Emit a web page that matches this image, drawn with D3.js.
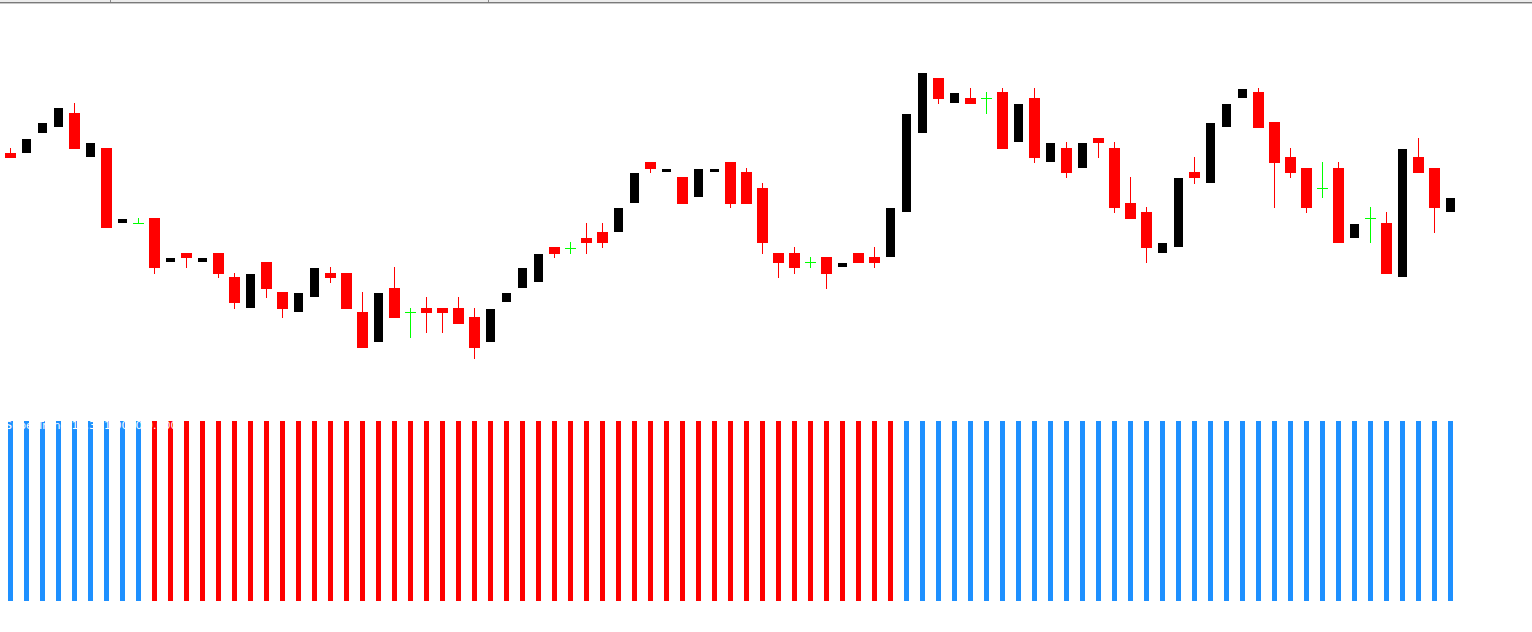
<!DOCTYPE html>
<html>
<head>
<meta charset="utf-8">
<title>candles</title>
<script src="https://d3js.org/d3.v7.min.js"></script>
<style>
  body { margin: 0; background: #fff; }
  svg { display: block; }
</style>
</head>
<body>
<div id="chart"></div>
<script>
// OHLC (price units)
var opens  = [1.1907,1.1907,1.1927,1.1933,1.1947,1.1903,1.1912,1.1837,1.1837,1.1842,
              1.1798,1.1807,1.1798,1.1807,1.1783,1.1752,1.1798,1.1768,1.1748,1.1763,
              1.1787,1.1787,1.1748,1.1718,1.1772,1.1748,1.1752,1.1752,1.1752,1.1743,
              1.1718,1.1758,1.1772,1.1778,1.1813,1.1812,1.1822,1.1828,1.1828,1.1857,
              1.1898,1.1888,1.1883,1.1863,1.1888,1.1898,1.1888,1.1872,1.1807,1.1807,
              1.1798,1.1803,1.1793,1.1807,1.1803,1.1803,1.1848,1.1927,1.1982,1.1957,
              1.1962,1.1962,1.1968,1.1918,1.1962,1.1898,1.1912,1.1892,1.1922,1.1912,
              1.1857,1.1848,1.1807,1.1813,1.1888,1.1877,1.1933,1.1962,1.1968,1.1938,
              1.1903,1.1892,1.1872,1.1892,1.1822,1.1842,1.1837,1.1783,1.1903,1.1892,
              1.1848];
var highs  = [1.1912,1.1921,1.1937,1.1952,1.1957,1.1917,1.1912,1.1841,1.1842,1.1842,
              1.1802,1.1807,1.1802,1.1807,1.1787,1.1786,1.1798,1.1768,1.1767,1.1792,
              1.1793,1.1787,1.1768,1.1767,1.1793,1.1752,1.1763,1.1752,1.1763,1.1752,
              1.1751,1.1767,1.1792,1.1806,1.1813,1.1818,1.1837,1.1837,1.1852,1.1887,
              1.1898,1.1891,1.1883,1.1891,1.1891,1.1898,1.1892,1.1877,1.1807,1.1813,
              1.1803,1.1803,1.1797,1.1807,1.1813,1.1852,1.1946,1.1987,1.1982,1.1967,
              1.1972,1.1968,1.1972,1.1956,1.1972,1.1917,1.1918,1.1917,1.1922,1.1918,
              1.1883,1.1853,1.1817,1.1882,1.1903,1.1937,1.1956,1.1971,1.1972,1.1938,
              1.1912,1.1892,1.1898,1.1898,1.1836,1.1853,1.1848,1.1911,1.1922,1.1892,
              1.1862];
var lows   = [1.1902,1.1907,1.1927,1.1933,1.1911,1.1903,1.1832,1.1837,1.1837,1.1786,
              1.1798,1.1792,1.1798,1.1782,1.1751,1.1752,1.1762,1.1742,1.1748,1.1763,
              1.1777,1.1751,1.1712,1.1718,1.1742,1.1722,1.1727,1.1727,1.1736,1.1701,
              1.1718,1.1758,1.1772,1.1778,1.1802,1.1806,1.1806,1.1812,1.1828,1.1857,
              1.1887,1.1888,1.1856,1.1863,1.1888,1.1852,1.1856,1.1806,1.1782,1.1786,
              1.1792,1.1771,1.1793,1.1797,1.1792,1.1803,1.1848,1.1927,1.1956,1.1957,
              1.1956,1.1946,1.1911,1.1918,1.1897,1.1898,1.1882,1.1892,1.1902,1.1847,
              1.1841,1.1797,1.1807,1.1813,1.1876,1.1877,1.1933,1.1962,1.1932,1.1852,
              1.1882,1.1847,1.1862,1.1817,1.1822,1.1817,1.1786,1.1783,1.1887,1.1827,
              1.1848];
var closes = [1.1902,1.1921,1.1937,1.1952,1.1911,1.1917,1.1832,1.1841,1.1837,1.1792,
              1.1802,1.1802,1.1802,1.1786,1.1757,1.1786,1.1771,1.1751,1.1767,1.1792,
              1.1782,1.1751,1.1712,1.1767,1.1742,1.1748,1.1747,1.1747,1.1736,1.1712,
              1.1751,1.1767,1.1792,1.1806,1.1806,1.1812,1.1817,1.1817,1.1852,1.1887,
              1.1891,1.1891,1.1856,1.1891,1.1891,1.1856,1.1856,1.1817,1.1797,1.1792,
              1.1798,1.1786,1.1797,1.1797,1.1797,1.1852,1.1946,1.1987,1.1961,1.1967,
              1.1956,1.1962,1.1911,1.1956,1.1902,1.1917,1.1887,1.1917,1.1917,1.1852,
              1.1841,1.1812,1.1817,1.1882,1.1882,1.1937,1.1956,1.1971,1.1932,1.1897,
              1.1887,1.1852,1.1872,1.1817,1.1836,1.1842,1.1786,1.1911,1.1887,1.1852,
              1.1862];
// trend histogram: 1 = up (blue), -1 = down (red)
var trend = [1,1,1,1,1,1,1,1,1,
             -1,-1,-1,-1,-1,-1,-1,-1,-1,-1,-1,-1,-1,-1,-1,-1,-1,-1,-1,-1,-1,-1,-1,-1,
             -1,-1,-1,-1,-1,-1,-1,-1,-1,-1,-1,-1,-1,-1,-1,-1,-1,-1,-1,-1,-1,-1,-1,
             1,1,1,1,1,1,1,1,1,1,1,1,1,1,1,1,1,1,1,1,1,1,1,1,1,1,1,1,1,1,1,1,1,1,1];
var indicatorLabel = "SuperTrend(10,3) 1.0000 0.0000";

var width = 1532, height = 632;
var svg = d3.select("#chart").append("svg").attr("width", width).attr("height", height);

// window header strip
svg.append("rect").attr("x", 0).attr("y", 0).attr("width", width).attr("height", 2).attr("fill", "#ececec");
svg.append("rect").attr("x", 0).attr("y", 2).attr("width", width).attr("height", 1).attr("fill", "#7a7a7a");
svg.append("rect").attr("x", 0).attr("y", 3).attr("width", width).attr("height", 1).attr("fill", "#c8c8c8");
[110, 488].forEach(function(sx) {
  svg.append("rect").attr("x", sx).attr("y", 0).attr("width", 1).attr("height", 2).attr("fill", "#8a8a8a");
});

var data = opens.map(function(o, i) {
  return {i: i, o: o, h: highs[i], l: lows[i], c: closes[i]};
});

var x = d3.scaleLinear().domain([0, 90]).range([10.5, 1450.5]);
var y = d3.scaleLinear().domain([1.1460, 1.2060]).range([600, 0]);

var g = svg.append("g");

function kind(d) {
  if (d.o === d.c) return "doji";
  return d.c > d.o ? "up" : "down";
}

// wicks
g.selectAll(".wick").data(data.filter(function(d) { return kind(d) !== "up"; }))
  .enter().append("line")
  .attr("class", "wick")
  .attr("x1", function(d) { return Math.floor(x(d.i)) + 0.5; })
  .attr("x2", function(d) { return Math.floor(x(d.i)) + 0.5; })
  .attr("y1", function(d) { return Math.round(y(d.h)); })
  .attr("y2", function(d) { return Math.round(y(d.l)); })
  .attr("stroke", function(d) { return kind(d) === "doji" ? "#00ff00" : "#ff0000"; })
  .attr("stroke-width", 1);

// doji bars
g.selectAll(".doji").data(data.filter(function(d) { return kind(d) === "doji"; }))
  .enter().append("line")
  .attr("class", "doji")
  .attr("x1", function(d) { return x(d.i) - 5.5; })
  .attr("x2", function(d) { return x(d.i) + 5.5; })
  .attr("y1", function(d) { return Math.round(y(d.o)) + 0.5; })
  .attr("y2", function(d) { return Math.round(y(d.o)) + 0.5; })
  .attr("stroke", "#00ff00")
  .attr("stroke-width", 1);

// bodies
g.selectAll(".body").data(data.filter(function(d) { return kind(d) !== "doji"; }))
  .enter().append("rect")
  .attr("class", "body")
  .attr("x", function(d) { return kind(d) === "up" ? x(d.i) - 4.5 : x(d.i) - 5.5; })
  .attr("width", function(d) { return kind(d) === "up" ? 9 : 11; })
  .attr("y", function(d) { return Math.round(y(Math.max(d.o, d.c))); })
  .attr("height", function(d) {
    return Math.max(1, Math.round(y(Math.min(d.o, d.c))) - Math.round(y(Math.max(d.o, d.c))));
  })
  .attr("fill", function(d) { return kind(d) === "up" ? "#000000" : "#ff0000"; });

// indicator histogram
var yh = d3.scaleLinear().domain([0, 1]).range([601, 421]);
svg.append("g").selectAll("rect").data(trend)
  .enter().append("rect")
  .attr("x", function(d, i) { return x(i) - 2.5; })
  .attr("width", 5)
  .attr("y", function(d) { return yh(Math.abs(d)); })
  .attr("height", function(d) { return yh(0) - yh(Math.abs(d)); })
  .attr("fill", function(d) { return d > 0 ? "#1e90ff" : "#ff0000"; });

svg.append("text")
  .attr("x", 5).attr("y", 429)
  .attr("fill", "#ffffff")
  .style("font-family", "Tahoma, 'DejaVu Sans', sans-serif")
  .style("font-size", "11px")
  .text(indicatorLabel);
</script>
</body>
</html>
